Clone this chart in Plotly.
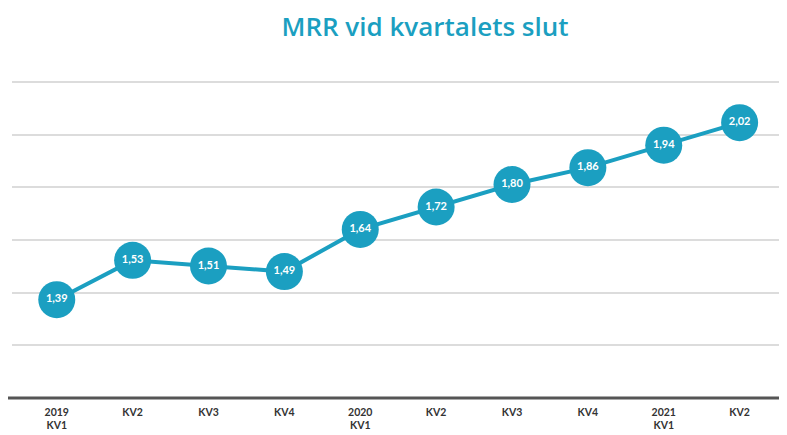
import plotly.graph_objects as go

quarters = ["2019<br>KV1", "KV2", "KV3", "KV4", "2020<br>KV1", "KV2", "KV3", "KV4", "2021<br>KV1", "KV2"]
mrr = [1.39, 1.53, 1.51, 1.49, 1.64, 1.72, 1.80, 1.86, 1.94, 2.02]
labels = [f"{v:.2f}".replace(".", ",") for v in mrr]

teal = "#1b9fc1"
idx = list(range(len(quarters)))

fig = go.Figure()
fig.add_trace(go.Scatter(
    x=idx, y=mrr, mode="lines+markers+text",
    line=dict(color=teal, width=4),
    marker=dict(size=37, color=teal, line=dict(color="white", width=0)),
    text=labels, textposition="middle center",
    textfont=dict(color="white", size=11, family="Lato, sans-serif", weight="bold"),
    hoverinfo="skip", showlegend=False,
))

# page body has an 8px margin; compensate in layout margins
fig.update_layout(
    width=787, height=435,
    margin=dict(l=4, r=0, t=72, b=45, autoexpand=False),
    paper_bgcolor="white", plot_bgcolor="white",
    title=dict(text="MRR vid kvartalets slut", x=417/787, xanchor="center",
               y=1 - 19/435, yanchor="middle",
               font=dict(family="Open Sans, sans-serif", size=26, color=teal, weight=600)),
    xaxis=dict(range=[-0.59, 9.73], tickmode="array", tickvals=idx, ticktext=quarters,
               showgrid=False, zeroline=False, showline=False, automargin=False,
               tickfont=dict(family="Lato, sans-serif", size=10.5, color="#333", weight="bold"),
               ticks="", ticklabelstandoff=6),
    yaxis=dict(range=[1.04, 2.172], tick0=1.04, dtick=0.1875, showticklabels=False,
               showgrid=True, gridcolor="#dcdcdc", gridwidth=1.5, zeroline=False,
               showline=False, ticks="", automargin=False),
)
fig.add_shape(type="line", xref="paper", yref="paper", x0=-0.006, x1=1, y0=0, y1=0,
              line=dict(color="#555", width=3), layer="below")

fig.write_html("out.html")
